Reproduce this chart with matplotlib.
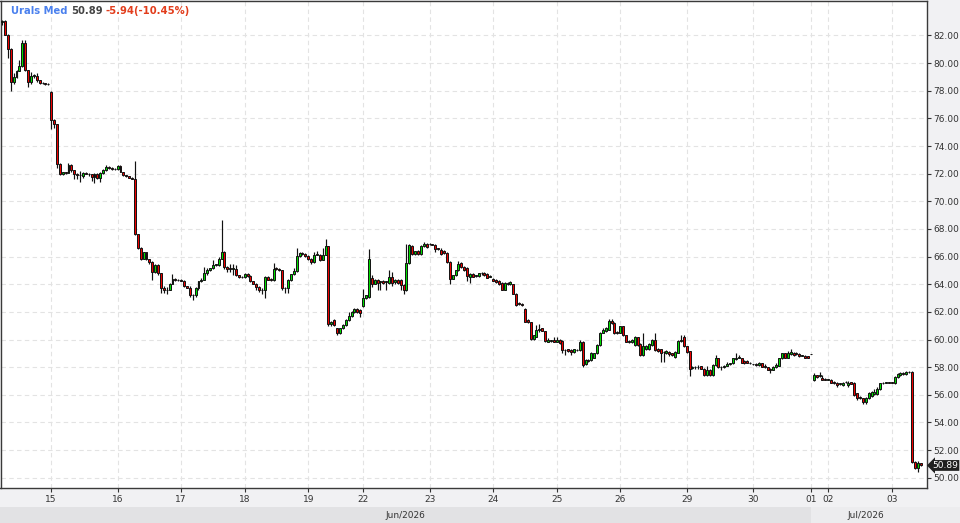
import matplotlib
matplotlib.use("Agg")
import matplotlib.pyplot as plt
import matplotlib.transforms as mtransforms
from matplotlib.patches import Rectangle
import numpy as np

# ---------------- data ----------------
instrument = "Urals Med"
last_price = 50.89
change_abs = -5.94
change_pct = -10.45

day_labels = ["", "15", "16", "17", "18", "19", "22", "23", "24", "25", "26",
              "29", "30", "01", "02", "03"]
day_counts = [17, 23, 22, 22, 22, 19, 23, 22, 22, 22, 23, 23, 20, 6, 22, 11]
month_labels = ["Jun/2026", "Jul/2026"]
month_first_day = ["15", "01"]

opens = [
    83.0, 83.04, 82.07, 81.04, 78.63, 79.0, 79.42, 79.76, 81.45, 79.47, 78.63, 79.1, 79.1, 78.75, 78.55, 78.52, 78.5,
    77.9, 75.86, 75.57, 72.72, 71.98, 72.1, 72.08, 72.6, 72.25, 71.95, 71.87, 71.85, 72.03, 72.0, 71.95, 71.75, 72.0, 71.72, 72.05, 72.25, 72.5, 72.42, 72.35,
    72.32, 72.55, 72.12, 71.88, 71.8, 71.72, 71.65, 67.6, 66.65, 65.85, 66.3, 65.8, 65.6, 64.9, 65.4, 64.8, 63.76, 63.57, 63.6, 64.05, 64.41, 64.3,
    64.3, 64.23, 63.85, 63.75, 63.2, 63.22, 63.75, 64.2, 64.34, 64.8, 65.05, 65.15, 65.4, 65.42, 65.85, 66.34, 65.25, 65.13, 65.1, 65.13, 64.65, 64.53,
    64.5, 64.77, 64.6, 64.2, 64.05, 63.8, 63.57, 63.6, 64.53, 64.34, 64.32, 65.2, 65.13, 65.0, 63.7, 63.72, 64.3, 64.72, 64.96, 66.07, 66.26, 66.2,
    66.05, 65.85, 65.6, 66.15, 66.15, 65.78, 66.15, 66.75, 61.16, 61.4, 60.8, 60.44, 60.8, 61.04, 61.4, 61.7, 62.0, 62.24, 62.15,
    62.43, 63.04, 63.1, 64.48, 64.05, 64.34, 64.17, 64.24, 64.17, 64.1, 64.53, 64.17, 64.3, 64.3, 63.93, 63.57, 65.54, 66.75, 66.22, 66.4, 66.22, 66.75, 66.94,
    66.9, 66.87, 66.85, 66.58, 66.5, 66.4, 66.29, 65.6, 64.41, 64.65, 65.0, 65.54, 65.25, 65.2, 64.53, 64.77, 64.6, 64.6, 64.8, 64.82, 64.73, 64.55,
    64.4, 64.3, 64.24, 64.1, 63.6, 64.1, 64.0, 64.0, 63.33, 62.6, 62.6, 62.24, 61.4, 61.28, 60.07, 60.2, 60.72, 60.8, 60.63, 59.83, 59.9, 60.0,
    59.83, 60.0, 59.9, 59.23, 59.3, 59.23, 59.11, 59.23, 59.23, 59.83, 58.2, 58.55, 58.5, 58.7, 59.0, 59.6, 60.48, 60.6, 60.72, 61.35, 61.2, 60.55,
    60.48, 60.97, 60.3, 59.83, 59.83, 59.6, 60.15, 59.7, 58.87, 59.3, 59.3, 59.6, 60.0, 59.35, 59.28, 59.1, 59.04, 59.11, 59.0, 58.75, 59.04, 59.9, 60.15,
    59.5, 59.15, 57.95, 57.98, 58.0, 58.07, 57.9, 57.42, 57.83, 57.42, 58.15, 58.63, 58.03, 58.0, 58.1, 58.2, 58.27, 58.56, 58.7, 58.63, 58.45, 58.45, 58.3,
    58.2, 58.22, 58.15, 58.27, 58.07, 57.98, 57.9, 57.83, 58.0, 58.07, 58.63, 58.99, 58.7, 58.95, 59.04, 59.0, 58.95, 58.82, 58.82, 58.78,
    58.94, 57.06, 57.42, 57.35, 57.25, 57.18,
    57.1, 57.1, 56.94, 56.87, 56.8, 56.7, 56.9, 56.7, 56.9, 56.87, 56.1, 55.83, 55.74, 55.5, 55.74, 55.9, 56.05, 56.05, 56.4, 56.82, 56.87, 56.87,
    56.87, 56.82, 57.3, 57.4, 57.6, 57.5, 57.62, 57.62, 51.16, 50.7, 51.05,
]
highs = [
    83.1, 83.1, 82.1, 81.1, 79.3, 79.5, 80.2, 81.64, 81.64, 79.5, 79.35, 79.2, 79.25, 78.8, 78.6, 78.58, 78.55,
    77.95, 75.95, 75.6, 72.8, 72.15, 72.15, 72.75, 72.7, 72.3, 72.05, 72.2, 72.1, 72.1, 72.05, 72.0, 72.05, 72.05, 72.1, 72.35, 72.6, 72.55, 72.45, 72.4,
    72.6, 72.6, 72.15, 71.9, 71.82, 71.75, 72.9, 67.65, 66.7, 66.35, 66.35, 65.85, 65.65, 65.45, 65.45, 64.85, 63.85, 63.8, 64.1, 64.77, 64.45, 64.35,
    64.35, 64.3, 63.9, 63.85, 63.3, 63.8, 64.25, 64.45, 65.25, 65.15, 65.2, 65.75, 65.5, 65.95, 68.63, 66.4, 65.3, 65.5, 65.5, 65.4, 64.7, 64.6,
    64.8, 64.8, 64.65, 64.25, 64.1, 63.85, 63.7, 64.6, 64.6, 64.45, 65.55, 65.25, 65.2, 65.05, 63.8, 64.35, 64.75, 65.15, 66.63, 66.3, 66.3, 66.25,
    66.1, 65.9, 66.34, 66.4, 66.2, 66.6, 67.3, 66.8, 61.35, 61.5, 60.85, 60.85, 61.1, 61.45, 62.0, 62.1, 62.3, 62.3, 62.2,
    63.69, 63.25, 66.58, 64.65, 64.35, 64.4, 64.25, 64.3, 64.25, 65.0, 64.9, 64.4, 64.35, 64.4, 64.0, 66.94, 66.94, 66.85, 66.4, 66.45, 66.85, 67.05, 67.0,
    66.95, 66.9, 66.9, 66.62, 66.6, 66.45, 66.35, 65.65, 64.7, 65.05, 65.7, 65.6, 65.3, 65.25, 64.8, 64.82, 64.65, 64.85, 64.9, 64.86, 64.78, 64.65,
    64.45, 64.35, 64.3, 64.15, 64.15, 64.15, 64.2, 64.05, 63.4, 62.7, 62.65, 62.3, 61.45, 61.3, 60.35, 61.04, 61.16, 60.85, 60.65, 60.1, 60.0, 60.15,
    60.2, 60.05, 59.95, 59.3, 59.35, 59.28, 59.32, 59.3, 59.95, 59.88, 58.6, 58.6, 59.08, 59.05, 59.65, 60.55, 60.8, 60.9, 61.5, 61.5, 61.25, 60.6,
    61.0, 61.0, 60.35, 60.0, 60.05, 60.25, 60.2, 59.75, 60.48, 59.6, 59.75, 60.05, 60.5, 59.4, 59.32, 59.2, 59.22, 59.15, 59.05, 59.15, 60.0, 60.3, 60.3,
    59.55, 59.2, 58.05, 58.05, 58.15, 58.1, 57.95, 58.1, 57.88, 58.25, 58.87, 58.68, 58.08, 58.15, 58.4, 58.32, 58.68, 58.99, 58.9, 58.68, 58.5, 58.5, 58.35,
    58.25, 58.27, 58.35, 58.3, 58.25, 58.0, 57.93, 58.05, 58.27, 58.68, 59.04, 59.04, 59.2, 59.35, 59.1, 59.1, 59.0, 58.86, 58.85, 58.8,
    58.96, 57.55, 57.45, 57.65, 57.45, 57.22,
    57.15, 57.18, 57.0, 56.9, 56.85, 56.9, 56.97, 56.97, 56.95, 56.9, 56.15, 55.88, 55.78, 55.85, 56.2, 56.25, 56.45, 56.55, 56.87, 56.95, 56.92, 56.9,
    56.9, 57.35, 57.6, 57.66, 57.66, 57.7, 57.7, 57.75, 51.2, 51.2, 51.1,
]
lows = [
    82.75, 82.0, 80.4, 78.0, 78.5, 78.9, 79.4, 79.7, 79.4, 78.3, 78.5, 78.9, 78.6, 78.5, 78.5, 78.45, 78.45,
    75.25, 75.3, 72.4, 71.9, 71.9, 72.0, 72.05, 72.1, 71.65, 71.6, 71.4, 71.7, 71.95, 71.8, 71.5, 71.3, 71.6, 71.4, 72.0, 72.2, 72.35, 72.3, 72.25,
    72.3, 72.1, 71.85, 71.75, 71.68, 71.6, 67.55, 66.55, 65.73, 65.8, 65.75, 65.5, 64.3, 64.85, 64.7, 63.4, 63.4, 63.3, 63.55, 64.0, 64.25, 64.25,
    64.2, 63.8, 63.7, 63.1, 62.85, 63.1, 63.6, 64.15, 64.3, 64.7, 64.95, 65.1, 65.3, 65.35, 65.8, 65.1, 64.9, 64.9, 64.65, 64.6, 64.45, 64.45,
    64.45, 64.55, 64.15, 64.0, 63.55, 63.45, 63.3, 63.0, 64.3, 64.25, 64.25, 65.05, 64.95, 63.55, 63.35, 63.35, 64.25, 64.65, 64.9, 66.0, 66.15, 66.0,
    65.75, 65.45, 65.55, 66.1, 65.7, 65.75, 66.1, 61.0, 61.0, 60.95, 60.3, 60.4, 60.75, 61.0, 61.35, 61.65, 61.95, 61.95, 61.64,
    62.35, 62.95, 63.0, 63.8, 64.0, 63.6, 63.6, 64.0, 63.6, 64.0, 63.9, 64.0, 64.0, 63.55, 63.3, 63.5, 65.5, 66.1, 66.15, 66.15, 66.15, 66.7, 66.65,
    66.85, 66.82, 66.35, 66.5, 66.1, 66.2, 65.55, 64.0, 64.35, 64.6, 64.95, 65.2, 64.95, 64.2, 64.1, 64.5, 64.55, 64.55, 64.7, 64.6, 64.45, 64.5,
    64.2, 64.1, 63.95, 63.55, 63.55, 63.95, 63.95, 63.3, 62.4, 62.5, 62.45, 61.25, 61.2, 60.0, 60.0, 60.15, 60.55, 60.6, 59.85, 59.8, 59.85, 59.8,
    59.8, 59.7, 58.99, 58.87, 59.1, 58.87, 59.05, 59.15, 59.2, 58.0, 58.15, 58.4, 58.45, 58.65, 58.95, 59.55, 60.45, 60.55, 60.7, 61.15, 60.4, 60.42,
    60.45, 60.28, 59.8, 59.75, 59.75, 59.55, 59.55, 58.8, 58.8, 59.25, 59.25, 59.55, 59.15, 59.1, 58.35, 58.4, 58.95, 58.8, 58.8, 58.7, 59.0, 59.85, 59.45,
    59.05, 57.35, 57.9, 57.9, 57.85, 57.85, 57.35, 57.38, 57.38, 57.38, 58.1, 57.95, 57.8, 57.95, 58.05, 58.15, 58.22, 58.5, 58.65, 58.28, 58.25, 58.28, 58.25,
    58.15, 58.1, 58.1, 58.0, 57.95, 57.8, 57.6, 57.8, 57.95, 58.05, 58.6, 58.65, 58.65, 58.9, 58.82, 58.9, 58.75, 58.78, 58.68, 58.65,
    58.92, 57.0, 57.25, 57.3, 57.05, 57.05,
    57.05, 56.85, 56.78, 56.57, 56.68, 56.65, 56.85, 56.6, 56.75, 55.95, 55.6, 55.7, 55.37, 55.37, 55.7, 55.85, 56.0, 56.0, 56.35, 56.8, 56.82, 56.82,
    56.82, 56.75, 57.25, 57.35, 57.45, 57.45, 57.55, 51.1, 50.6, 50.4, 50.85,
]
closes = [
    83.05, 82.07, 81.04, 78.63, 79.0, 79.42, 79.76, 81.45, 79.47, 78.63, 79.1, 79.12, 78.75, 78.55, 78.56, 78.5, 78.48,
    75.86, 75.57, 72.72, 71.98, 72.1, 72.08, 72.6, 72.25, 71.95, 71.87, 71.9, 72.03, 72.0, 71.95, 71.75, 72.0, 71.72, 72.05, 72.25, 72.5, 72.42, 72.35, 72.32,
    72.55, 72.12, 71.88, 71.8, 71.72, 71.65, 67.62, 66.65, 65.85, 66.3, 65.8, 65.6, 64.9, 65.4, 64.8, 63.76, 63.57, 63.6, 64.05, 64.41, 64.3, 64.3,
    64.23, 63.85, 63.75, 63.2, 63.22, 63.75, 64.2, 64.34, 64.8, 65.05, 65.15, 65.4, 65.42, 65.85, 66.34, 65.25, 65.13, 65.1, 65.13, 64.65, 64.53, 64.5,
    64.77, 64.6, 64.2, 64.05, 63.8, 63.57, 63.6, 64.53, 64.34, 64.32, 65.13, 65.13, 65.0, 63.7, 63.72, 64.3, 64.72, 64.96, 66.07, 66.26, 66.2, 66.05,
    65.85, 65.6, 66.15, 66.17, 65.78, 66.15, 66.75, 61.16, 61.28, 61.04, 60.44, 60.8, 61.04, 61.4, 61.7, 62.0, 62.2, 62.0, 61.93,
    63.04, 63.2, 65.86, 64.05, 64.34, 64.1, 64.17, 64.1, 64.17, 64.53, 64.1, 64.34, 64.1, 63.93, 63.57, 65.54, 66.82, 66.22, 66.4, 66.22, 66.75, 66.94, 66.7,
    66.89, 66.85, 66.58, 66.56, 66.22, 66.25, 65.6, 64.41, 64.65, 65.0, 65.5, 65.25, 65.0, 64.6, 64.77, 64.53, 64.6, 64.82, 64.8, 64.65, 64.48, 64.6,
    64.24, 64.17, 64.05, 63.6, 64.1, 64.05, 64.15, 63.33, 62.5, 62.58, 62.48, 61.28, 61.28, 60.07, 60.31, 60.72, 60.75, 60.63, 59.9, 60.0, 59.92, 59.83,
    60.0, 59.76, 59.23, 59.25, 59.15, 59.11, 59.28, 59.25, 59.83, 58.15, 58.55, 58.45, 59.04, 59.0, 59.6, 60.48, 60.72, 60.85, 61.35, 61.2, 60.48, 60.48,
    60.97, 60.3, 59.83, 59.85, 60.0, 60.15, 59.6, 58.87, 59.52, 59.5, 59.7, 60.0, 59.23, 59.18, 59.04, 59.08, 59.18, 58.95, 58.87, 59.1, 59.9, 60.0, 59.5,
    59.1, 57.9, 57.98, 58.02, 58.0, 57.9, 57.42, 57.83, 57.42, 58.15, 58.63, 58.03, 58.0, 58.12, 58.22, 58.27, 58.63, 58.7, 58.72, 58.32, 58.3, 58.32, 58.28,
    58.2, 58.15, 58.32, 58.03, 57.98, 57.83, 57.78, 58.0, 58.15, 58.63, 58.99, 58.7, 59.04, 59.1, 58.87, 58.95, 58.8, 58.82, 58.7, 58.7,
    58.94, 57.42, 57.3, 57.4, 57.1, 57.1,
    57.1, 56.87, 56.82, 56.7, 56.8, 56.87, 56.9, 56.87, 56.8, 55.98, 55.8, 55.74, 55.5, 55.8, 56.15, 56.2, 56.22, 56.4, 56.82, 56.88, 56.87, 56.86,
    56.86, 57.3, 57.54, 57.55, 57.5, 57.66, 57.62, 51.16, 50.7, 51.1, 50.89,
]

n = sum(day_counts)
assert len(opens) == n and len(highs) == n and len(lows) == n and len(closes) == n, \
    (n, len(opens), len(highs), len(lows), len(closes))

# ---------------- layout ----------------
W, H = 960, 523
DPI = 100
AX_LEFT, AX_RIGHT, AX_TOP, AX_BOTTOM = 0.5, 926.7, 0.5, 487.7   # pixels
TICK_BAND_BOTTOM = 507.0
Y_LIM = (49.28, 84.53)
X_LIM = (-0.54, 320.1)

fig = plt.figure(figsize=(W / DPI, H / DPI), dpi=DPI, facecolor="#f1f1f3")
ax = fig.add_axes([AX_LEFT / W, (H - AX_BOTTOM) / H,
                   (AX_RIGHT - AX_LEFT) / W, (AX_BOTTOM - AX_TOP) / H])
ax.set_facecolor("white")
ax.set_xlim(*X_LIM)
ax.set_ylim(*Y_LIM)

O = np.array(opens); Hh = np.array(highs); L = np.array(lows); C = np.array(closes)
x = np.arange(n)
up = C >= O
body_colors = np.where(up, "#00dd00", "#ee0000")
lo = np.minimum.reduce([L, O, C])
hi = np.maximum.reduce([Hh, O, C])
ax.vlines(x, lo, hi, color="#111111", linewidth=0.85, zorder=3)
bottoms = np.minimum(O, C)
heights = np.maximum(np.abs(C - O), 0.04)
ax.bar(x, heights, bottom=bottoms, width=0.68, color=body_colors,
       edgecolor="#111111", linewidth=0.7, zorder=4)

# ticks
starts = np.concatenate([[0], np.cumsum(day_counts)[:-1]])
tick_pos = [s for s, lab in zip(starts, day_labels) if lab]
tick_lab = [lab for lab in day_labels if lab]
ax.set_xticks(tick_pos)
ax.set_xticklabels(tick_lab)
ax.set_yticks(np.arange(50, 84, 2))
ax.yaxis.set_major_formatter(matplotlib.ticker.FormatStrFormatter("%.2f"))
ax.yaxis.tick_right()
ax.tick_params(axis="y", length=3, width=0.8, color="#333333", labelsize=6.5,
               labelcolor="#333333", pad=1.5)
ax.tick_params(axis="x", length=3, width=0.8, color="#333333", labelsize=6.5,
               labelcolor="#333333", pad=2.5)
for sp in ax.spines.values():
    sp.set_color("#3a3a3a")
    sp.set_linewidth(1.0)

ax.set_axisbelow(True)
ax.grid(True, color="#e3e3e3", linestyle=(0, (4, 3)), linewidth=0.8)

# bottom month band
fig.canvas.draw()
def fig_x(idx):
    return ax.transData.transform((idx, 0))[0] / W

day_start = dict(zip(day_labels, starts))
jul_x = fig_x(day_start[month_first_day[1]])
band_h = (H - TICK_BAND_BOTTOM) / H
fig.patches.append(Rectangle((0, 0), jul_x, band_h, transform=fig.transFigure,
                             facecolor="#e2e2e4", edgecolor="none", zorder=0))
fig.patches.append(Rectangle((jul_x, 0), 1 - jul_x, band_h, transform=fig.transFigure,
                             facecolor="#ececee", edgecolor="none", zorder=0))
jun_mid = (0 + day_start[month_first_day[1]] - 1) / 2
jul_mid = (day_start[month_first_day[1]] + n - 1) / 2
for lab, mid in zip(month_labels, [jun_mid, jul_mid]):
    fig.text(fig_x(mid), band_h / 2, lab, ha="center", va="center",
             fontsize=6.5, color="#333333")

# last price marker
blend = mtransforms.blended_transform_factory(ax.transAxes, ax.transData)
ax.annotate(f"{last_price:.2f}", xy=(1.0, last_price), xycoords=blend,
            xytext=(4.2, 0), textcoords="offset points", ha="left", va="center",
            fontsize=6.5, color="white", annotation_clip=False, zorder=10,
            bbox=dict(boxstyle="larrow,pad=0.1", fc="#1f1f1f", ec="none"))

# title
renderer = fig.canvas.get_renderer()
parts = [(instrument, "#4a80ee"),
         (f"{last_price:.2f}", "#444444"),
         (f"{change_abs:.2f}({change_pct:.2f}%)", "#e23d1c")]
xpos = 11 / W
ypos = 1 - 11.5 / H
for txt, col in parts:
    t = fig.text(xpos, ypos, txt, color=col, fontsize=7.2, fontweight="bold",
                 ha="left", va="center")
    bb = t.get_window_extent(renderer=renderer)
    xpos = (bb.x1 + 3.2) / W

fig.savefig("out.png", dpi=DPI, facecolor=fig.get_facecolor())
